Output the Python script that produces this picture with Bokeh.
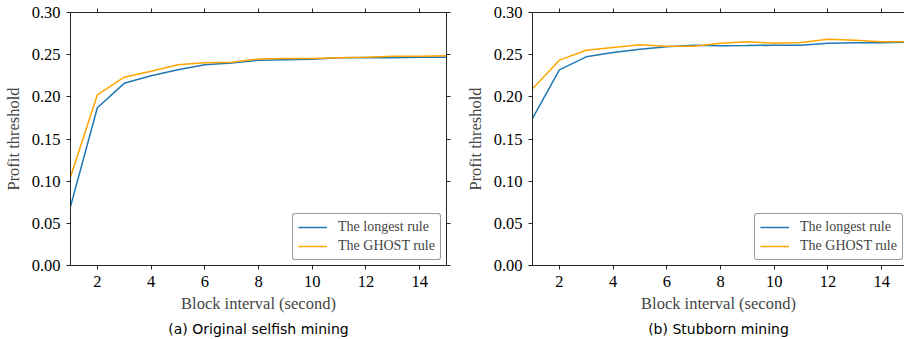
from bokeh.plotting import figure
from bokeh.layouts import row
from bokeh.models import (Range1d, LinearAxis, FixedTicker, PrintfTickFormatter,
                          CustomJSTickFormatter, Title, Legend, LegendItem)
from bokeh.embed import file_html
from bokeh.resources import INLINE

# ---- data ----
block_interval = [1, 2, 3, 4, 5, 6, 7, 8, 9, 10, 11, 12, 13, 14, 15]

selfish_longest = [0.070, 0.187, 0.216, 0.225, 0.232, 0.238, 0.240, 0.2435, 0.244, 0.2445,
                   0.2463, 0.2467, 0.2463, 0.247, 0.247]
selfish_ghost = [0.105, 0.2024, 0.2233, 0.2304, 0.238, 0.2403, 0.241, 0.245, 0.2455, 0.2455,
                 0.2463, 0.247, 0.2482, 0.2482, 0.2486]

stubborn_longest = [0.1743, 0.232, 0.2474, 0.2526, 0.2565, 0.2593, 0.2612, 0.2605, 0.2608, 0.2612,
                    0.2612, 0.2636, 0.264, 0.264, 0.2648]
stubborn_ghost = [0.2095, 0.2435, 0.2553, 0.2585, 0.2617, 0.260, 0.260, 0.2636, 0.2652, 0.2636,
                  0.2644, 0.2684, 0.2672, 0.2652, 0.2652]

x_ticks = [2, 4, 6, 8, 10, 12, 14]
y_ticks = [0.0, 0.05, 0.10, 0.15, 0.20, 0.25, 0.30]
series_labels = ["The longest rule", "The GHOST rule"]
captions = ["(a) Original selfish mining", "(b) Stubborn mining"]
x_label = "Block interval (second)"
y_label = "Profit threshold"

BLUE = "#1f77b4"
ORANGE = "#ffa500"
SERIF = "Liberation Serif"
AXIS_COL = "#262626"


def style_axis(ax, ticks, show_labels=True, fmt=None):
    ax.ticker = FixedTicker(ticks=ticks)
    ax.minor_tick_line_color = None
    ax.major_tick_in = 0
    ax.major_tick_out = 4
    ax.major_tick_line_color = AXIS_COL
    ax.axis_line_color = AXIS_COL
    ax.axis_line_width = 1
    ax.major_label_text_font = SERIF
    ax.major_label_text_color = "black"
    ax.major_label_text_font_size = "16.5px"
    if fmt is not None:
        ax.formatter = fmt
    if not show_labels:
        ax.formatter = CustomJSTickFormatter(code="return '';")
        ax.major_label_standoff = 0


def make_panel(longest, ghost, caption, width, right_border, x_end, right_axis):
    p = figure(width=width, height=339, output_backend="svg", toolbar_location=None,
               x_range=Range1d(1, x_end), y_range=Range1d(0, 0.30),
               min_border_left=70, min_border_right=right_border,
               min_border_top=12, min_border_bottom=20)
    p.outline_line_color = None
    p.xgrid.visible = False
    p.ygrid.visible = False
    p.background_fill_color = "white"
    p.border_fill_color = "white"

    l1 = p.line(block_interval, longest, line_color=BLUE, line_width=1.5)
    l2 = p.line(block_interval, ghost, line_color=ORANGE, line_width=1.5)

    xa = p.xaxis[0]
    style_axis(xa, x_ticks)
    xa.major_label_standoff = 6
    xa.axis_label = x_label
    xa.axis_label_text_font = SERIF
    xa.axis_label_text_font_size = "16.5px"
    xa.axis_label_text_font_style = "normal"
    xa.axis_label_standoff = 4

    ya = p.yaxis[0]
    style_axis(ya, y_ticks, fmt=PrintfTickFormatter(format="%.2f"))
    ya.major_label_standoff = 6
    ya.axis_label = y_label
    ya.axis_label_text_font = SERIF
    ya.axis_label_text_font_size = "16.5px"
    ya.axis_label_text_font_style = "normal"
    ya.axis_label_standoff = 6

    top = LinearAxis()
    style_axis(top, x_ticks, show_labels=False)
    p.add_layout(top, "above")
    if right_axis:
        r = LinearAxis()
        style_axis(r, y_ticks, show_labels=False)
        p.add_layout(r, "right")

    legend = Legend(items=[LegendItem(label=series_labels[0], renderers=[l1]),
                           LegendItem(label=series_labels[1], renderers=[l2])],
                    location=(222, 5))
    legend.margin = 0
    legend.padding = 5
    legend.spacing = 3
    legend.glyph_width = 29
    legend.glyph_height = 16
    legend.label_height = 16
    legend.label_standoff = 11
    legend.label_text_font = SERIF
    legend.label_text_font_size = "14px"
    legend.border_line_color = "#333333"
    legend.border_line_width = 1
    legend.background_fill_alpha = 0.85
    try:
        legend.border_radius = 3
    except Exception:
        pass
    p.add_layout(legend, "center")

    t = Title(text=caption, align="center", text_font="DejaVu Sans",
              text_font_size="14px", text_font_style="normal", text_color="black")
    t.standoff = 6
    p.add_layout(t, "below")
    return p


p1 = make_panel(selfish_longest, selfish_ghost, captions[0], 462, 16, 15, True)
p2 = make_panel(stubborn_longest, stubborn_ghost, captions[1], 442, 0, 1 + 372 / 26.86, False)

layout = row(p1, p2, spacing=0)
open("out.html", "w").write(file_html(layout, INLINE))
